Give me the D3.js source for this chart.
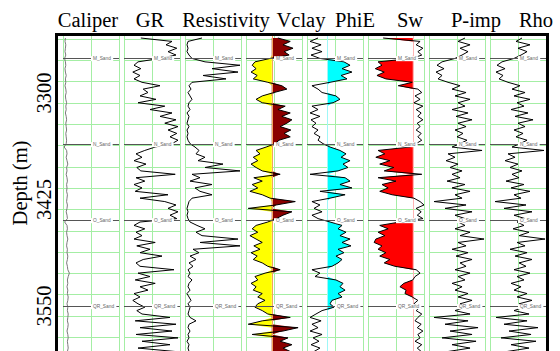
<!DOCTYPE html>
<html>
<head>
<meta charset="utf-8">
<script src="https://cdn.jsdelivr.net/npm/d3@7"></script>
<style>
  body { margin: 0; background: #fff; }
  svg text { font-family: "Liberation Serif", "Times New Roman", serif; }
</style>
</head>
<body>
<svg id="chart" width="560" height="351"></svg>
<script>
// log samples, one every 4 m starting at 3236 m
const topDepth = 3236;
const sampleStep = 4;

const trackNames = ['Caliper', 'GR', 'Resistivity', 'Vclay', 'PhiE', 'Sw', 'P-imp', 'Rho'];

const caliper = [
  6.6, 6.5, 6.7, 6.6, 6.5, 6.7, 6.4, 6.6, 6.7, 6.5,
  6.6, 6.8, 6.6, 6.7, 6.5, 6.7, 6.8, 6.6, 6.7, 6.9,
  6.7, 6.8, 6.6, 6.8, 6.9, 6.7, 6.8, 6.9, 6.7, 6.8,
  6.9, 6.8, 6.3, 6.9, 7.0, 6.8, 7.0, 7.2, 6.9, 7.0,
  6.8, 7.0, 7.1, 6.9, 7.0, 6.9, 7.1, 7.0, 6.9, 7.1,
  7.0, 6.8, 7.0, 7.1, 6.4, 7.0, 7.1, 6.9, 7.0, 7.2,
  7.0, 6.9, 7.1, 7.0, 7.2, 7.1, 6.9, 7.1, 7.2, 7.6,
  7.3, 7.1, 7.2, 7.0, 7.2, 7.1, 7.3, 7.2, 7.0, 7.2,
  7.1, 7.3, 7.2, 7.1, 7.3, 7.2, 7.0, 7.2, 7.3, 7.1,
  7.2, 7.3, 7.1
];

const gr = [
  42, 120, 105, 132, 110, 130, 90, 35, 25, 42,
  22, 40, 25, 45, 90, 48, 60, 40, 80, 35,
  102, 65, 120, 90, 130, 102, 135, 110, 132, 115,
  135, 120, 78, 52, 30, 45, 25, 55, 32, 42,
  128, 30, 52, 25, 45, 28, 110, 40, 102, 130,
  110, 135, 115, 132, 40, 25, 52, 30, 45, 25,
  78, 32, 65, 40, 95, 48, 30, 40, 125, 35,
  65, 28, 78, 40, 60, 25, 40, 22, 35, 52,
  32, 45, 115, 28, 130, 40, 120, 30, 135, 45,
  115, 35, 128
];

const resistivity = [
  8.5, 1.5, 1, 1.5, 1, 2, 3.5, 10, 27.5, 13.5,
  26.5, 9, 20.5, 3.5, 2, 3, 1.5, 2.5, 3.5, 2,
  1.5, 2.5, 1, 2, 1.5, 1, 2, 1, 1.5, 1,
  1.5, 2.5, 5, 7, 5.5, 10, 6.5, 19, 10, 27.5,
  3.5, 7.5, 2.5, 13.5, 5, 7.5, 13.5, 3.5, 2, 1.5,
  1, 1.5, 1, 1.5, 2.5, 6, 10, 5.5, 8.5, 26.5,
  7.5, 27.5, 4, 7, 2.5, 5.5, 2, 4, 1.5, 2.5,
  1.5, 3.5, 2, 1.5, 2.5, 1, 2, 3, 1.5, 2.5,
  2, 1.5, 2.5, 5.5, 2, 1.5, 2.5, 1.5, 2, 1,
  2, 1.5, 2
];

const vclay = [
  0.57, 0.79, 0.66, 0.84, 0.68, 0.77, 0.43, 0.16, 0.11, 0.18,
  0.09, 0.20, 0.13, 0.39, 0.64, 0.73, 0.50, 0.29, 0.18, 0.29,
  0.70, 0.57, 0.79, 0.64, 0.82, 0.73, 0.61, 0.80, 0.68, 0.79,
  0.59, 0.52, 0.36, 0.18, 0.25, 0.13, 0.21, 0.09, 0.18, 0.29,
  0.61, 0.14, 0.29, 0.11, 0.21, 0.07, 0.29, 0.43, 0.88, 0.54,
  0.04, 0.82, 0.66, 0.54, 0.39, 0.18, 0.11, 0.21, 0.07, 0.18,
  0.29, 0.14, 0.25, 0.09, 0.20, 0.13, 0.29, 0.39, 0.61, 0.34,
  0.16, 0.21, 0.09, 0.18, 0.13, 0.29, 0.21, 0.34, 0.21, 0.16,
  0.29, 0.39, 0.79, 0.29, 0.04, 0.93, 0.66, 0.11, 0.75, 0.61,
  0.82, 0.66, 0.79
];

const phie = [
  0.069, 0.019, 0.088, 0.031, 0.094, 0.025, 0.081, 0.231, 0.269, 0.219,
  0.281, 0.213, 0.250, 0.144, 0.031, 0.069, 0.094, 0.181, 0.206, 0.163,
  0.031, 0.069, 0.019, 0.081, 0.025, 0.056, 0.031, 0.069, 0.044, 0.081,
  0.069, 0.100, 0.144, 0.206, 0.244, 0.213, 0.269, 0.225, 0.256, 0.194,
  0.019, 0.238, 0.269, 0.206, 0.281, 0.081, 0.238, 0.144, 0.031, 0.081,
  0.044, 0.094, 0.031, 0.069, 0.144, 0.219, 0.194, 0.244, 0.206, 0.269,
  0.219, 0.275, 0.194, 0.231, 0.181, 0.219, 0.194, 0.156, 0.031, 0.081,
  0.050, 0.181, 0.225, 0.206, 0.238, 0.194, 0.219, 0.156, 0.144, 0.169,
  0.094, 0.056, 0.019, 0.088, 0.031, 0.069, 0.019, 0.094, 0.038, 0.075,
  0.025, 0.081, 0.044
];

const sw = [
  0.27, 0.93, 0.86, 0.98, 0.89, 0.96, 0.79, 0.18, 0.25, 0.13,
  0.29, 0.16, 0.32, 0.79, 0.54, 0.89, 0.96, 0.84, 0.93, 0.82,
  0.98, 0.86, 0.95, 0.89, 0.98, 0.88, 0.93, 0.86, 0.95, 0.89,
  0.96, 0.86, 0.75, 0.18, 0.30, 0.14, 0.39, 0.21, 0.46, 0.29,
  0.96, 0.18, 0.50, 0.25, 0.36, 0.21, 0.43, 0.82, 0.93, 1.00,
  0.86, 0.95, 0.88, 0.98, 0.57, 0.21, 0.36, 0.18, 0.30, 0.14,
  0.11, 0.25, 0.18, 0.32, 0.21, 0.39, 0.29, 0.48, 0.86, 0.93,
  0.84, 0.80, 0.64, 0.57, 0.68, 0.66, 0.79, 0.89, 0.82, 0.93,
  0.86, 0.96, 0.89, 0.84, 0.95, 0.88, 0.98, 0.89, 0.93, 0.84,
  0.96, 0.88, 0.95
];

const pimp = [
  8.5, 7.63, 9.13, 7.88, 8.88, 8.13, 7.25, 5.63, 5.0, 5.88,
  4.88, 5.63, 5.13, 6.38, 7.88, 6.88, 8.63, 7.25, 9.13, 7.63,
  8.5, 6.88, 8.88, 7.38, 9.38, 7.63, 8.63, 7.25, 8.25, 7.5,
  8.75, 7.88, 6.88, 10.63, 6.38, 7.25, 6.13, 7.63, 6.63, 8.13,
  6.88, 7.88, 6.25, 8.5, 6.88, 9.13, 7.25, 8.13, 4.63, 8.63,
  6.0, 9.38, 7.25, 8.5, 7.63, 8.5, 7.25, 9.13, 7.88, 10.88,
  7.63, 8.63, 6.88, 8.88, 7.38, 9.38, 7.88, 8.63, 7.25, 9.13,
  7.63, 8.5, 6.88, 8.13, 7.25, 8.88, 7.63, 9.38, 7.88, 8.5,
  7.25, 9.13, 4.63, 8.88, 6.0, 10.13, 6.63, 9.38, 5.63, 9.88,
  6.88, 9.13, 6.38
];

const rho = [
  2.4, 2.325, 2.5, 2.35, 2.463, 2.388, 2.3, 2.15, 2.088, 2.188,
  2.075, 2.163, 2.113, 2.225, 2.375, 2.275, 2.438, 2.3, 2.5, 2.338,
  2.425, 2.263, 2.475, 2.313, 2.538, 2.35, 2.438, 2.3, 2.413, 2.325,
  2.463, 2.375, 2.275, 2.675, 2.225, 2.313, 2.188, 2.35, 2.25, 2.4,
  2.275, 2.363, 2.2, 2.425, 2.263, 2.5, 2.3, 2.388, 2.063, 2.45,
  2.175, 2.525, 2.3, 2.438, 2.338, 2.425, 2.288, 2.488, 2.363, 2.688,
  2.338, 2.438, 2.25, 2.463, 2.313, 2.525, 2.363, 2.45, 2.3, 2.5,
  2.338, 2.425, 2.263, 2.388, 2.3, 2.463, 2.338, 2.525, 2.363, 2.425,
  2.3, 2.488, 2.075, 2.463, 2.175, 2.6, 2.238, 2.513, 2.138, 2.575,
  2.263, 2.488, 2.213
];

const markerNames = ['M_Sand', 'N_Sand', 'O_Sand', 'QR_Sand'];
const markerDepths = [3260, 3361, 3450, 3551];

const depthTicks = [3300, 3425, 3550];

// layout
const trackLeft0 = 63;
const trackPitch = 61;
const trackWidth = 56;
const headerCenters = [88, 150, 226, 301, 355, 410, 476, 536];
const GRID = '#a4eea4';

const depths = caliper.map((v, k) => topDepth + k * sampleStep);

const tracks = [
  { values: caliper, domain: [6, 20], stroke: '#7a7a7a' },
  { values: gr, domain: [0, 140] },
  { values: resistivity, domain: [0, 28] },
  { values: vclay, domain: [0, 1], cutoff: 0.46, cutLine: '#f2a35e', below: '#ffff00', above: '#8b0000' },
  { values: phie, domain: [0, 0.35], cutoff: 0.125, cutLine: '#9ff7f7', above: '#00ffff' },
  { values: sw, domain: [0, 1], cutoff: 0.8, cutLine: '#ffb4b4', below: '#ff0000' },
  { values: pimp, domain: [4, 11] },
  { values: rho, domain: [2.0, 2.7] },
];

const svg = d3.select('#chart');

svg.append('defs').append('clipPath').attr('id', 'plot-clip')
  .append('rect')
    .attr('x', 0)
    .attr('y', 36)
    .attr('width', 560)
    .attr('height', 320);

const y = d3.scaleLinear().domain([3236, 3604]).range([38, 351.5]);
const gridDepths = d3.range(3237, 3604, 25);

tracks.forEach((track, i) => {
  const left = trackLeft0 + trackPitch * i;
  const right = left + trackWidth;
  const mid = (left + right) / 2;
  const x = d3.scaleLinear().domain(track.domain).range([left, right]);
  const rows = depths.map((d, k) => ({ depth: d, v: track.values[k] }));

  const g = svg.append('g').attr('clip-path', 'url(#plot-clip)');

  // green grid
  g.selectAll('line.hgrid')
    .data(gridDepths)
    .join('line')
      .attr('class', 'hgrid')
      .attr('x1', i === 0 ? 58 : left)
      .attr('x2', right)
      .attr('y1', d => Math.round(y(d)) + 0.5)
      .attr('y2', d => Math.round(y(d)) + 0.5)
      .attr('stroke', GRID);

  g.selectAll('line.vgrid')
    .data([left, mid, right])
    .join('line')
      .attr('class', 'vgrid')
      .attr('x1', d => Math.round(d) + 0.5)
      .attr('x2', d => Math.round(d) + 0.5)
      .attr('y1', 36)
      .attr('y2', 360)
      .attr('stroke', GRID);

  // shading against the cutoff
  if (track.below) {
    g.append('path')
      .datum(rows)
      .attr('fill', track.below)
      .attr('d', d3.area()
        .y(d => y(d.depth))
        .x0(x(track.cutoff))
        .x1(d => x(Math.min(d.v, track.cutoff))));
  }
  if (track.above) {
    g.append('path')
      .datum(rows)
      .attr('fill', track.above)
      .attr('d', d3.area()
        .y(d => y(d.depth))
        .x0(x(track.cutoff))
        .x1(d => x(Math.max(d.v, track.cutoff))));
  }
  if (track.cutLine) {
    g.append('line')
      .attr('x1', Math.round(x(track.cutoff)) + 0.5)
      .attr('x2', Math.round(x(track.cutoff)) + 0.5)
      .attr('y1', 36)
      .attr('y2', 360)
      .attr('stroke', track.cutLine);
  }

  g.append('path')
    .datum(rows)
    .attr('fill', 'none')
    .attr('stroke', track.stroke || '#000')
    .attr('stroke-width', 1)
    .attr('d', d3.line().x(d => x(d.v)).y(d => y(d.depth)));

  // formation tops
  markerDepths.forEach((md, m) => {
    const my = Math.round(y(md)) + 0.5;
    g.append('line')
      .attr('x1', left)
      .attr('x2', right)
      .attr('y1', my)
      .attr('y2', my)
      .attr('stroke', '#555');
    const label = g.append('text')
      .attr('x', mid + 2)
      .attr('y', my)
      .attr('dy', '0.35em')
      .attr('fill', '#666')
      .style('font-family', '"Liberation Sans", Arial, sans-serif')
      .style('font-size', '4.8px')
      .text(markerNames[m]);
    const bb = label.node().getBBox();
    g.insert('rect', () => label.node())
      .attr('x', bb.x - 2)
      .attr('y', bb.y)
      .attr('width', bb.width + 4)
      .attr('height', bb.height)
      .attr('fill', '#fff');
  });
});

// track titles
svg.append('g')
  .selectAll('text')
  .data(trackNames)
  .join('text')
    .attr('x', (d, i) => headerCenters[i])
    .attr('y', 27)
    .attr('text-anchor', 'middle')
    .attr('font-size', 20.5)
    .text(d => d);

// depth axis
const axis = svg.append('g')
  .attr('transform', 'translate(51,0)')
  .call(d3.axisLeft(y)
    .tickValues(depthTicks)
    .tickFormat(d3.format('d'))
    .tickSize(0)
    .tickPadding(0));
axis.select('.domain').remove();
axis.selectAll('text')
  .attr('x', 0)
  .attr('dy', 0)
  .attr('text-anchor', 'middle')
  .attr('transform', 'rotate(-90)')
  .attr('font-size', 20.5)
  .attr('fill', '#000');

svg.append('text')
  .attr('transform', 'translate(27,183) rotate(-90)')
  .attr('text-anchor', 'middle')
  .attr('font-size', 20.5)
  .text('Depth (m)');

// outer frame
svg.append('rect')
  .attr('x', 56.5)
  .attr('y', 34.5)
  .attr('width', 491)
  .attr('height', 340)
  .attr('fill', 'none')
  .attr('stroke', '#000')
  .attr('stroke-width', 3);
</script>
</body>
</html>
